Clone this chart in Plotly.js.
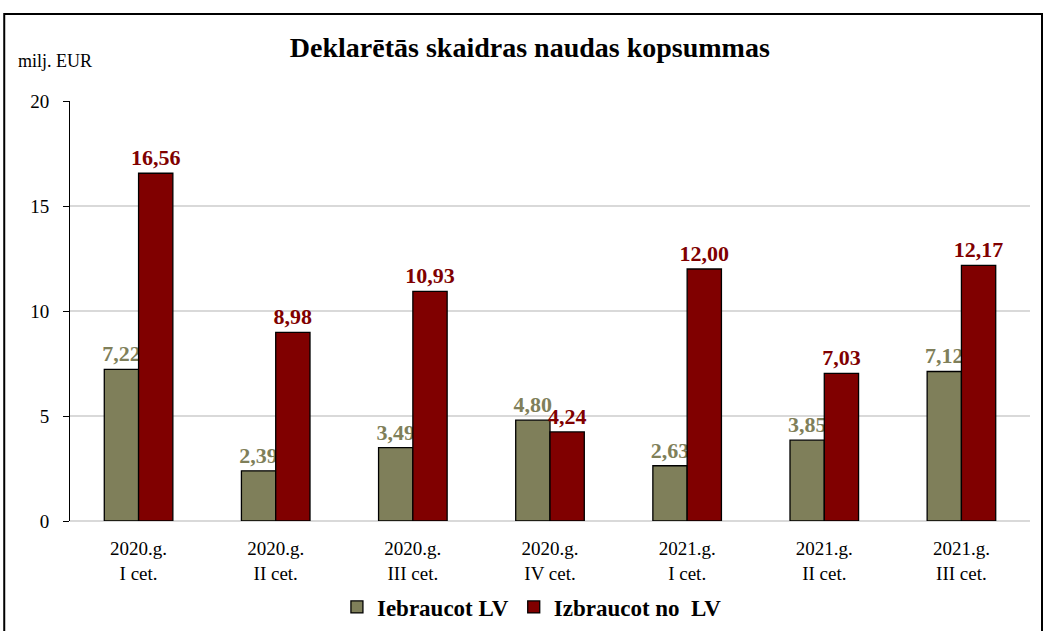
<!DOCTYPE html>
<html><head><meta charset="utf-8">
<script src="https://cdn.plot.ly/plotly-3.0.1.min.js"></script>
<style>body{margin:0;background:#fff}#c{width:1043px;height:631px}</style>
</head><body><div id="c"></div>
<script>
const categories = ["2020.g.<br>I cet.","2020.g.<br>II cet.","2020.g.<br>III cet.","2020.g.<br>IV cet.","2021.g.<br>I cet.","2021.g.<br>II cet.","2021.g.<br>III cet."];
const iebraucot = [7.22, 2.39, 3.49, 4.80, 2.63, 3.85, 7.12];
const izbraucot = [16.56, 8.98, 10.93, 4.24, 12.00, 7.03, 12.17];
const yTicks = [0, 5, 10, 15, 20];

const fmt = v => v.toFixed(2).replace('.', ',');
const serif = 'Liberation Serif';
const green = '#7f7f5a', red = '#800000';

const traces = [
  {type:'bar', name:'Iebraucot LV', x:categories, y:iebraucot, text:iebraucot.map(fmt),
   textposition:'outside', cliponaxis:false, constraintext:'none',
   textfont:{family:serif, size:22, color:green, weight:'bold'},
   marker:{color:green, line:{color:'#000', width:1.3}}},
  {type:'bar', name:'Izbraucot no  LV', x:categories, y:izbraucot, text:izbraucot.map(fmt),
   textposition:'outside', cliponaxis:false, constraintext:'none',
   textfont:{family:serif, size:22, color:red, weight:'bold'},
   marker:{color:red, line:{color:'#000', width:1.3}}}
];

const layout = {
  width:1043, height:631,
  margin:{l:70, r:13, t:101, b:110},
  paper_bgcolor:'#fff', plot_bgcolor:'#fff',
  font:{family:serif, size:19, color:'#000'},
  barmode:'group', bargap:0.5, bargroupgap:0,
  title:{text:'Deklarētās skaidras naudas kopsummas', font:{family:serif, size:28, color:'#000', weight:'bold'},
         x:0.508, xref:'container', xanchor:'center', y:0.925, yref:'container', yanchor:'middle'},
  xaxis:{showgrid:false, showline:false, ticks:'', ticklabelstandoff:14, tickfont:{family:serif, size:19}, automargin:false, fixedrange:true},
  yaxis:{range:[0,20], tickvals:yTicks, ticktext:yTicks.map(String), showgrid:true, gridcolor:'#d9d9d9', gridwidth:1.5,
         zeroline:true, zerolinecolor:'#d9d9d9', zerolinewidth:1.5,
         showline:true, linecolor:'#000', linewidth:1, ticks:'outside', ticklen:6, tickcolor:'#000',
         ticklabelstandoff:10, tickfont:{family:serif, size:19}, automargin:false, fixedrange:true},
  showlegend:true,
  legend:{orientation:'h', xref:'container', x:0.51, xanchor:'center', yref:'container', y:0.038, yanchor:'middle',
          font:{family:serif, size:23, weight:'bold'}, traceorder:'normal'},
  annotations:[{text:'milj. EUR', xref:'paper', yref:'paper', x:-0.056, y:1.095, xanchor:'left', yanchor:'middle',
                showarrow:false, font:{family:serif, size:18}}],
  shapes:[{type:'rect', xref:'paper', yref:'paper', x0:-0.0685, x1:1.0125, y0:-0.4, y1:1.2071,
           line:{color:'#000', width:2}, fillcolor:'rgba(0,0,0,0)', layer:'below'}]
};
Plotly.newPlot('c', traces, layout, {displayModeBar:false, staticPlot:true});
</script></body></html>
